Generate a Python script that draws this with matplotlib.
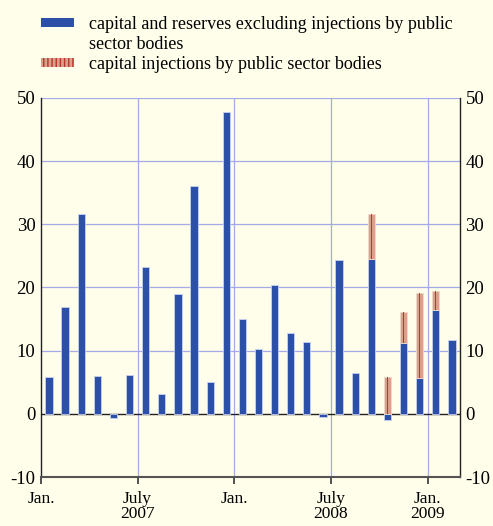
import matplotlib.pyplot as plt
from matplotlib.patches import Patch

plt.rcParams['font.family'] = ['Liberation Serif', 'DejaVu Serif']
plt.rcParams['axes.unicode_minus'] = False

months = ['2007-01', '2007-02', '2007-03', '2007-04', '2007-05', '2007-06',
          '2007-07', '2007-08', '2007-09', '2007-10', '2007-11', '2007-12',
          '2008-01', '2008-02', '2008-03', '2008-04', '2008-05', '2008-06',
          '2008-07', '2008-08', '2008-09', '2008-10', '2008-11', '2008-12',
          '2009-01', '2009-02']
# capital and reserves excluding public injections
capital = [5.8, 16.9, 31.6, 6.0, -0.7, 6.2, 23.2, 3.1, 19.0, 36.1, 5.1, 47.7,
           15.0, 10.3, 20.4, 12.8, 11.4, -0.5, 24.3, 6.5, 24.5, -0.9, 11.2, 5.7,
           16.5, 11.7]
# capital injections by public sector bodies
injections = [0, 0, 0, 0, 0, 0, 0, 0, 0, 0, 0, 0,
              0, 0, 0, 0, 0, 0, 0, 0, 7.1, 5.8, 4.9, 13.5, 3.0, 0]

tick_pos = [0, 6, 12, 18, 24]
tick_labels = ['Jan.', 'July\n2007', 'Jan.', 'July\n2008', 'Jan.\n2009']

bg = '#fffeea'
blue = '#2c4fa8'
pink = '#d9a08e'
red = '#b8352a'
grid_col = '#a4aae6'

fig = plt.figure(figsize=(4.93, 5.26), dpi=100, facecolor=bg)
ax = fig.add_axes([0.083, 0.093, 0.850, 0.721], facecolor=bg)

x = [i + 0.5 for i in range(len(months))]
bottoms = [max(c, 0) for c in capital]
inj_x = [xi for xi, v in zip(x, injections) if v > 0]
inj_v = [v for v in injections if v > 0]
inj_b = [b for b, v in zip(bottoms, injections) if v > 0]

ax.bar(x, capital, width=0.45, color=blue, edgecolor='#c8d0f0', linewidth=0.6, zorder=3)
ax.bar(inj_x, inj_v, bottom=inj_b, width=0.45, color=pink, edgecolor='#f0d8cc',
       linewidth=0.6, zorder=3)
ax.bar(inj_x, inj_v, bottom=inj_b, width=0.08, color=red, linewidth=0, zorder=4)

ax.set_xlim(0, 26)
ax.set_ylim(-10, 50)
ax.set_yticks(range(-10, 51, 10))
ax.set_xticks(tick_pos)
ax.set_xticklabels(tick_labels, fontsize=12.5, va='top', linespacing=0.9)
ax.tick_params(axis='y', labelsize=13.5, length=0, left=False, right=False,
               labelleft=True, labelright=True, pad=4)
ax.tick_params(axis='x', length=5, width=1.2, color='#333333', pad=5)

for v in range(10, 51, 10):
    ax.axhline(v, color=grid_col, linewidth=0.9, zorder=1)
for p in tick_pos[1:]:
    ax.axvline(p, color=grid_col, linewidth=0.9, zorder=1)
ax.axhline(0, color='#222222', linewidth=1.0, zorder=2)

ax.spines['top'].set_visible(False)
for s in ['left', 'right']:
    ax.spines[s].set_color('#222222')
    ax.spines[s].set_linewidth(1.0)
ax.spines['bottom'].set_color('#555555')
ax.spines['bottom'].set_linewidth(1.5)

handles = [Patch(facecolor=blue, edgecolor=blue, linewidth=0),
           Patch(facecolor='none', edgecolor='none', linewidth=0),
           Patch(facecolor=pink, edgecolor=red, hatch='||||', linewidth=0)]
labels = ['capital and reserves excluding injections by public',
          'sector bodies',
          'capital injections by public sector bodies']
fig.legend(handles, labels, loc='upper left', bbox_to_anchor=(0.05, 1.0),
           frameon=False, fontsize=13, handlelength=1.85, handleheight=0.4,
           handletextpad=0.8, labelspacing=0.16)

fig.savefig('out.png', dpi=100, facecolor=bg)
